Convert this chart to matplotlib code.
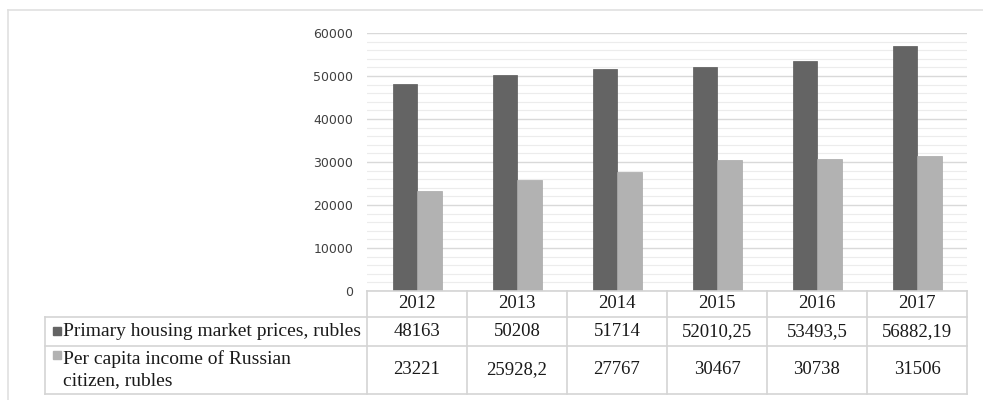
import matplotlib
matplotlib.use("Agg")
import matplotlib.pyplot as plt
from matplotlib.patches import Rectangle
from matplotlib.lines import Line2D
from matplotlib.transforms import blended_transform_factory

years = ["2012", "2013", "2014", "2015", "2016", "2017"]
housing = [48163, 50208, 51714, 52010.25, 53493.5, 56882.19]
income = [23221, 25928.2, 27767, 30467, 30738, 31506]
housing_labels = ["48163", "50208", "51714", "52010,25", "53493,5", "56882,19"]
income_labels = ["23221", "25928,2", "27767", "30467", "30738", "31506"]
series_names = ["Primary housing market prices, rubles",
                "Per capita income of Russian\ncitizen, rubles"]
yticks = [0, 10000, 20000, 30000, 40000, 50000, 60000]

W, H = 983, 400
DPI = 100
DARK = "#646464"
LIGHT = "#b2b2b2"
GRID = "#d9d9d9"
MINOR = "#ececec"

fig = plt.figure(figsize=(W / DPI, H / DPI), dpi=DPI)

def fx(px):
    return px / W

def fy(py):
    return 1 - py / H

ax_left, ax_right, ax_top, ax_bottom = 367, 967, 33, 291
ax = fig.add_axes([fx(ax_left), fy(ax_bottom), fx(ax_right - ax_left), (ax_bottom - ax_top) / H])

x = list(range(len(years)))
bw = 0.245
ax.bar([i - bw / 2 for i in x], housing, width=bw, color=DARK, edgecolor="#5a5a5a", linewidth=0.5, zorder=3)
ax.bar([i + bw / 2 for i in x], income, width=bw, color=LIGHT, edgecolor="#a8a8a8", linewidth=0.5, zorder=3)

ax.set_xlim(-0.5, len(years) - 0.5)
ax.set_ylim(0, 60000)
ax.set_yticks(yticks)
ax.set_yticklabels([str(v) for v in yticks], fontsize=9, color="#404040", family="DejaVu Sans")
ax.set_yticks(range(0, 60001, 2000), minor=True)
ax.tick_params(axis="y", which="both", length=0, pad=10)
ax.set_xticks([])
ax.grid(axis="y", which="major", color=GRID, linewidth=1.0, zorder=0)
ax.grid(axis="y", which="minor", color=MINOR, linewidth=0.8, zorder=0)
for s in ax.spines.values():
    s.set_visible(False)
ax.set_facecolor("none")

# outer frame lines
FRAME = "#e0e0e0"
fig.add_artist(Line2D([fx(8), fx(983)], [fy(10), fy(10)], color=FRAME, lw=1.2, transform=fig.transFigure))
fig.add_artist(Line2D([fx(8), fx(8)], [fy(10), fy(400)], color=FRAME, lw=1.2, transform=fig.transFigure))

# data table
tr = blended_transform_factory(ax.transData, fig.transFigure)
row_y = [291, 317, 346, 394]
lab_left = 45
LC = "#d4d4d4"
fig.add_artist(Line2D([fx(ax_left), fx(ax_right)], [fy(row_y[0])] * 2, color=LC, lw=1.2, transform=fig.transFigure))
for yy in row_y[1:]:
    fig.add_artist(Line2D([fx(lab_left), fx(ax_right)], [fy(yy)] * 2, color=LC, lw=1.2, transform=fig.transFigure))
fig.add_artist(Line2D([fx(lab_left), fx(lab_left)], [fy(row_y[1]), fy(row_y[3])], color=LC, lw=1.2, transform=fig.transFigure))
for i in range(len(years) + 1):
    xb = i - 0.5
    ax.add_line(Line2D([xb, xb], [fy(row_y[0]), fy(row_y[3])], color=LC, lw=1.2, transform=tr, clip_on=False))

SERIF = "Liberation Serif"
FS = 13.5
FSL = 14
TC = "#1a1a1a"
for i, yr in enumerate(years):
    ax.text(i, fy((row_y[0] + row_y[1]) / 2), yr, transform=tr, ha="center", va="center",
            fontsize=FS, family=SERIF, color=TC, clip_on=False)
    ax.text(i, fy((row_y[1] + row_y[2]) / 2), housing_labels[i], transform=tr, ha="center", va="center",
            fontsize=FS, family=SERIF, color=TC, clip_on=False)
    ax.text(i, fy((row_y[2] + row_y[3]) / 2), income_labels[i], transform=tr, ha="center", va="center",
            fontsize=FS, family=SERIF, color=TC, clip_on=False)

# row labels with legend keys
fig.add_artist(Rectangle((fx(53), fy(335)), fx(8), 8 / H, color=DARK, transform=fig.transFigure))
fig.text(fx(63), fy((row_y[1] + row_y[2]) / 2), series_names[0], ha="left", va="center",
         fontsize=FSL, family=SERIF, color=TC)
fig.add_artist(Rectangle((fx(53), fy(359)), fx(8), 8 / H, color=LIGHT, transform=fig.transFigure))
fig.text(fx(63), fy((row_y[2] + row_y[3]) / 2), series_names[1], ha="left", va="center",
         fontsize=FSL, family=SERIF, color=TC, linespacing=1.3)

fig.savefig("out.png", dpi=DPI)
